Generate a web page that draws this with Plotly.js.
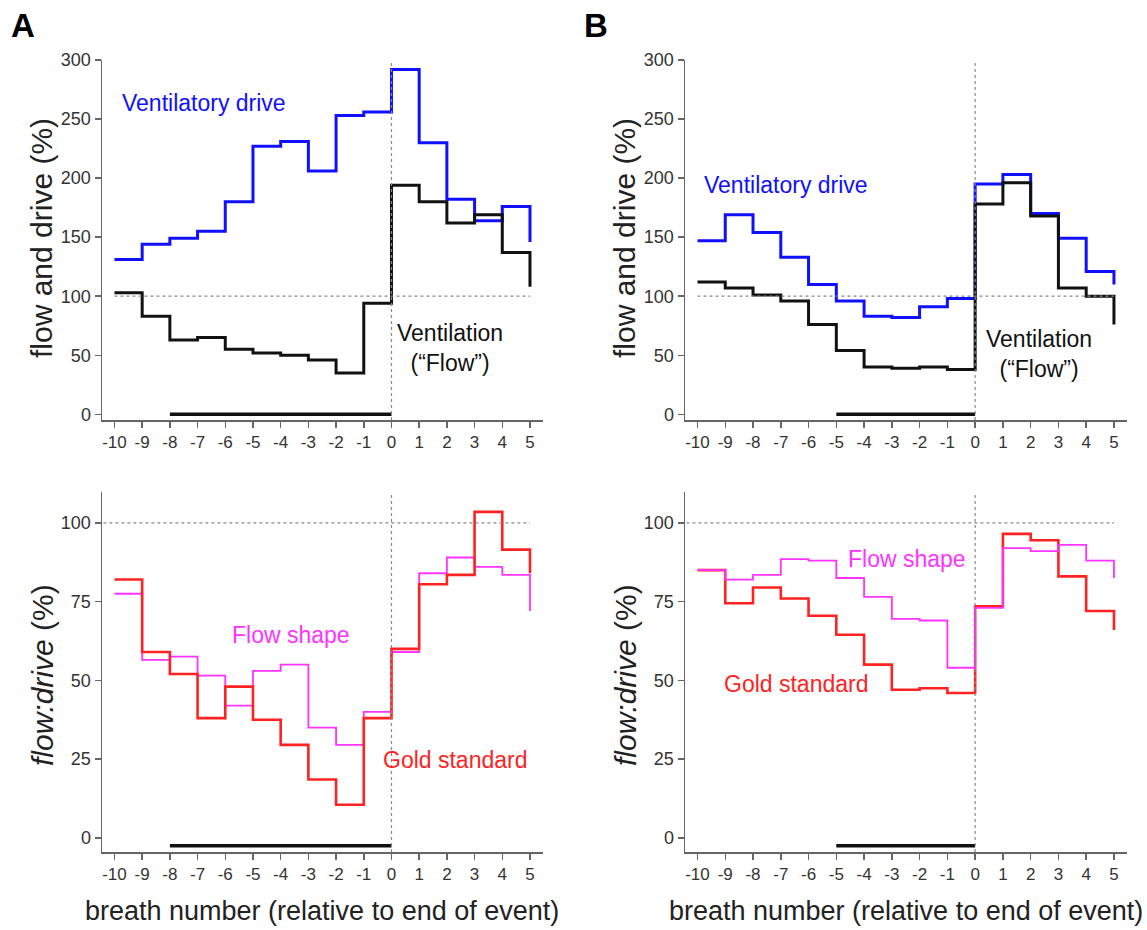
<!DOCTYPE html>
<html>
<head>
<meta charset="utf-8">
<script src="https://cdn.plot.ly/plotly-3.0.1.min.js"></script>
<style>html,body{margin:0;padding:0;background:#fff;}#chart{width:1147px;height:930px;}</style>
</head>
<body>
<div id="chart"></div>
<script>
// ---- data ----
const breaths = [-10, -9, -8, -7, -6, -5, -4, -3, -2, -1, 0, 1, 2, 3, 4, 5];
const xTickLabels = ["-10","-9","-8","-7","-6","-5","-4","-3","-2","-1","0","1","2","3","4","5"];

// Panel A (top): flow and drive (%)
const driveA = [131, 144, 149, 155, 180, 227, 231, 206, 253, 256, 292, 230, 182, 164, 176, 146];
const flowA  = [103, 83, 63, 65, 55, 52, 50, 46, 35, 94, 194, 180, 162, 169, 137, 108];
// Panel B (top)
const driveB = [147, 169, 154, 133, 110, 96, 83, 82, 91, 98, 195, 203, 170, 149, 121, 110];
const flowB  = [112, 107, 101, 96, 76, 54, 40, 39, 40, 38, 178, 196, 168, 107, 100, 76];

// Panel A (bottom): flow:drive (%)
const goldA  = [82, 59, 52, 38, 48, 37.5, 29.5, 18.5, 10.5, 38, 60, 80.5, 83.5, 103.5, 91.5, 84];
const shapeA = [77.5, 56.5, 57.5, 51.5, 42, 53, 55, 35, 29.5, 40, 59, 84, 89, 86, 83.5, 72];
// Panel B (bottom)
const goldB  = [85, 74.5, 79.5, 76, 70.5, 64.5, 55, 47, 47.5, 46, 73.5, 96.5, 94.5, 83, 72, 66];
const shapeB = [85, 82, 83.5, 88.5, 88, 82.5, 76.5, 69.5, 69, 54, 73, 92, 91, 93, 88, 82.5];

// event periods (breath numbers) and reference levels
const eventA = [-8, 0];
const eventB = [-5, 0];
const eventLevelTop = [0, 0];
const eventLevelBottom = [-2.5, -2.5];
const refLevel = 100;
const eventEnd = 0;

const topTicks = [0, 50, 100, 150, 200, 250, 300];
const bottomTicks = [0, 25, 50, 75, 100];

// ---- styles ----
const FONT = '"Liberation Sans", Arial, sans-serif';
const BLUE = '#1010ff', BLACK = '#111111', RED = '#ff2222', MAGENTA = '#ff33ff';

function stepTrace(y, xa, ya, color, width) {
  return {x: breaths, y: y, xaxis: xa, yaxis: ya, type: 'scatter', mode: 'lines',
          line: {shape: 'hv', color: color, width: width}, hoverinfo: 'x+y', showlegend: false};
}
function barTrace(xs, ys, xa, ya) {
  return {x: xs, y: ys, xaxis: xa, yaxis: ya, type: 'scatter', mode: 'lines',
          line: {color: BLACK, width: 3.5}, showlegend: false, hoverinfo: 'skip'};
}

const traces = [
  stepTrace(driveA, 'x', 'y', BLUE, 3),
  stepTrace(flowA, 'x', 'y', BLACK, 3),
  barTrace(eventA, eventLevelTop, 'x', 'y'),
  stepTrace(driveB, 'x2', 'y2', BLUE, 3),
  stepTrace(flowB, 'x2', 'y2', BLACK, 3),
  barTrace(eventB, eventLevelTop, 'x2', 'y2'),
  stepTrace(shapeA, 'x3', 'y3', MAGENTA, 1.8),
  stepTrace(goldA, 'x3', 'y3', RED, 2.6),
  barTrace(eventA, eventLevelBottom, 'x3', 'y3'),
  stepTrace(goldB, 'x4', 'y4', RED, 2.6),
  stepTrace(shapeB, 'x4', 'y4', MAGENTA, 1.8),
  barTrace(eventB, eventLevelBottom, 'x4', 'y4')
];

const W = 1147, H = 930;
const px = v => v / W, py = v => 1 - v / H;
const domA = [px(102), px(543)], domB = [px(685), px(1127)];
const domTop = [py(420), py(60)], domBot = [py(852), py(492)];

function xAxis(domain, anchor) {
  return {domain: domain, anchor: anchor, range: [-10.45, 5.47], tickmode: 'array',
          tickvals: breaths, ticktext: xTickLabels, ticks: 'outside', ticklen: 6, tickwidth: 1.5,
          tickcolor: '#666', showline: true, linecolor: '#666', linewidth: 1.5, showgrid: false,
          zeroline: false, tickfont: {family: FONT, size: 17, color: '#333'}};
}
function yAxis(domain, anchor, range, ticks) {
  return {domain: domain, anchor: anchor, range: range, tickmode: 'array', tickvals: ticks,
          ticks: 'outside', ticklen: 6, tickwidth: 1.5, tickcolor: '#666', showline: true,
          linecolor: '#666', linewidth: 1.5, showgrid: false, zeroline: false,
          tickfont: {family: FONT, size: 18, color: '#333'}};
}

const topRange = [-4.8, 300], botRange = [-4.5, 109.8];

function refShapes(xr, yr, x0) {
  return [
    {type: 'line', xref: xr, yref: yr, x0: x0, x1: breaths[breaths.length - 1], y0: refLevel, y1: refLevel,
     line: {color: '#888', width: 1.2, dash: 'dot'}},
    {type: 'line', xref: xr, yref: yr + ' domain', x0: eventEnd, x1: eventEnd, y0: 0, y1: 1,
     line: {color: '#888', width: 1.2, dash: 'dot'}}
  ];
}

function ann(text, xr, yr, x, y, color, size, extra) {
  return Object.assign({text: text, xref: xr, yref: yr, x: x, y: y, showarrow: false,
    xanchor: 'center', yanchor: 'middle',
    font: {family: FONT, size: size, color: color}}, extra || {});
}

const annotations = [
  ann('<b>A</b>', 'paper', 'paper', px(23), py(26), '#000', 33),
  ann('<b>B</b>', 'paper', 'paper', px(596), py(26), '#000', 33),
  ann('Ventilatory drive', 'x', 'y', -9.8, 264, BLUE, 23, {xanchor: 'left'}),
  ann('Ventilation<br>(“Flow”)', 'x', 'y', 2.1, 56, BLACK, 23, {align: 'center'}),
  ann('Ventilatory drive', 'x2', 'y2', -9.83, 194, BLUE, 23, {xanchor: 'left'}),
  ann('Ventilation<br>(“Flow”)', 'x2', 'y2', 2.3, 51, BLACK, 23, {align: 'center'}),
  ann('Flow shape', 'x3', 'y3', -3.63, 64.3, MAGENTA, 23),
  ann('Gold standard', 'x3', 'y3', 2.29, 24.7, RED, 23),
  ann('Flow shape', 'x4', 'y4', -2.44, 88.5, MAGENTA, 23),
  ann('Gold standard', 'x4', 'y4', -6.44, 48.8, RED, 23),
  // axis titles
  ann('flow and drive (%)', 'paper', 'paper', px(42), py(238), '#222', 30, {textangle: -90}),
  ann('flow and drive (%)', 'paper', 'paper', px(625), py(238), '#222', 30, {textangle: -90}),
  ann('<i>flow:drive</i> (%)', 'paper', 'paper', px(42), py(675), '#222', 30, {textangle: -90}),
  ann('<i>flow:drive</i> (%)', 'paper', 'paper', px(625), py(675), '#222', 30, {textangle: -90}),
  ann('breath number (relative to end of event)', 'paper', 'paper', px(322), py(911), '#222', 27),
  ann('breath number (relative to end of event)', 'paper', 'paper', px(906), py(911), '#222', 27)
];

const layout = {
  width: W, height: H, margin: {l: 0, r: 0, t: 0, b: 0},
  paper_bgcolor: '#fff', plot_bgcolor: '#fff', showlegend: false,
  font: {family: FONT},
  xaxis: xAxis(domA, 'y'), yaxis: yAxis(domTop, 'x', topRange, topTicks),
  xaxis2: xAxis(domB, 'y2'), yaxis2: yAxis(domTop, 'x2', topRange, topTicks),
  xaxis3: xAxis(domA, 'y3'), yaxis3: yAxis(domBot, 'x3', botRange, bottomTicks),
  xaxis4: xAxis(domB, 'y4'), yaxis4: yAxis(domBot, 'x4', botRange, bottomTicks),
  shapes: [].concat(refShapes('x', 'y', -10), refShapes('x2', 'y2', -10),
                    refShapes('x3', 'y3', -10.4), refShapes('x4', 'y4', -10.4)),
  annotations: annotations
};

Plotly.newPlot('chart', traces, layout, {displayModeBar: false, staticPlot: true});
</script>
</body>
</html>
